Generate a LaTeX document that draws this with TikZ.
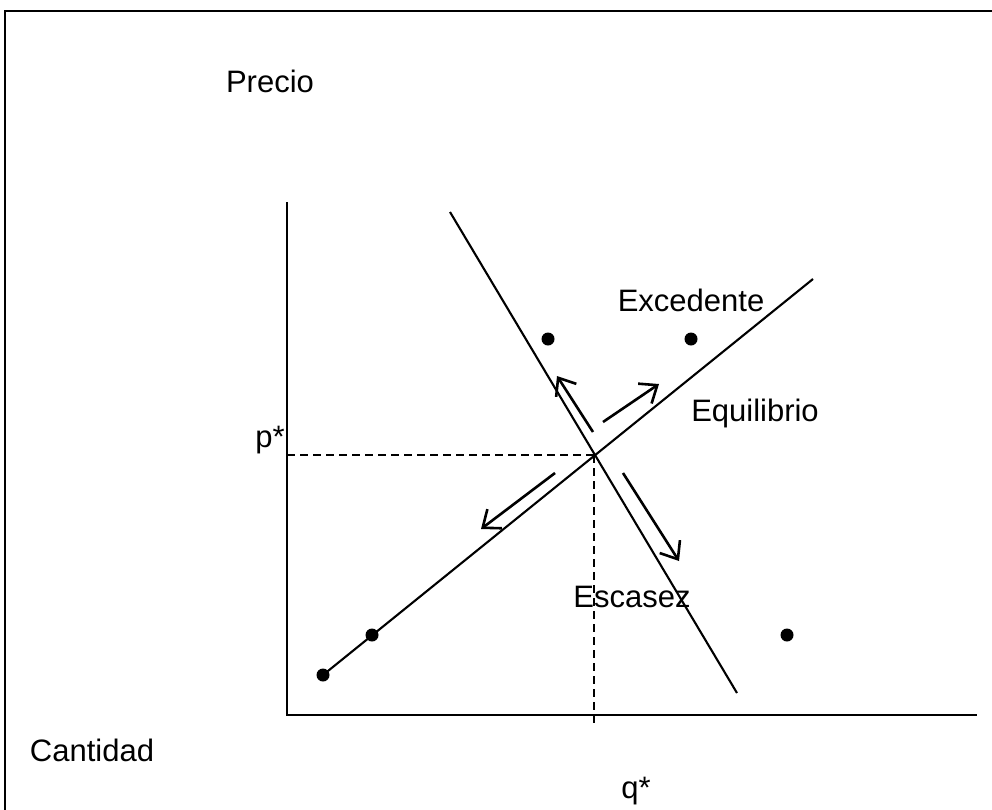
\documentclass[tikz,border=0pt]{standalone}
\usepackage{fontspec}
\setmainfont{Liberation Sans}
\usetikzlibrary{arrows.meta}
\begin{document}
\begin{tikzpicture}[x=1pt,y=-1pt,
  lbl/.style={font=\fontsize{31}{36}\selectfont, inner sep=0pt},
  curve/.style={line width=2.1pt},
  guide/.style={line width=1.9pt, dash pattern=on 8pt off 5pt},
  move/.style={line width=2.6pt, -{Straight Barb[length=15pt,width=24pt,line width=2.6pt]}},
  pt/.style={circle, fill=black, inner sep=0pt, minimum size=13pt}]
\useasboundingbox (0,0) rectangle (992,809);
\fill[white] (0,0) rectangle (992,809);
\draw[line width=2.6pt] (5,1000) -- (5,11) -- (1000,11);
% axes
\coordinate (O) at (287,715);
\coordinate (ytop) at (287,202);
\coordinate (xend) at (977,715);
\draw[line width=2.4pt] (ytop) -- (O) -- (xend);
% lines
\coordinate (s1) at (323,675);
\coordinate (s2) at (813,279);
\coordinate (d1) at (450,212);
\coordinate (d2) at (737,693);
\draw[curve] (s1) -- (s2);
\draw[curve] (d1) -- (d2);
\coordinate (E) at (594,455);
\coordinate (ey) at (287,455);
\coordinate (ex) at (594,725);
\draw[guide] (ey) -- (E);
\draw[guide] (E) -- (ex);
% dots
\node[pt] (p1) at (323,675) {};
\node[pt] (p2) at (372,635) {};
\node[pt] (p3) at (548,339) {};
\node[pt] (p4) at (691,339) {};
\node[pt] (p5) at (787,635) {};
% arrows
\coordinate (a1s) at (593,432); \coordinate (a1e) at (557,376);
\coordinate (a2s) at (603,422); \coordinate (a2e) at (659,384);
\coordinate (a3s) at (555,473); \coordinate (a3e) at (481,529);
\coordinate (a4s) at (623,473); \coordinate (a4e) at (679,561);
\draw[move] (a1s) -- (a1e);
\draw[move] (a2s) -- (a2e);
\draw[move] (a3s) -- (a3e);
\draw[move] (a4s) -- (a4e);
% labels
\node[lbl] (precio) at (270,81) {Precio};
\node[lbl] (pstar) at (270,440) {p*};
\node[lbl] (exc) at (691,300) {Excedente};
\node[lbl] (equ) at (755,413) {Equilibrio};
\node[lbl] (esc) at (632,597) {Escasez};
\node[lbl] (cant) at (92,750) {Cantidad};
\node[lbl] (qstar) at (636,791) {q*};
\end{tikzpicture}
\end{document}
